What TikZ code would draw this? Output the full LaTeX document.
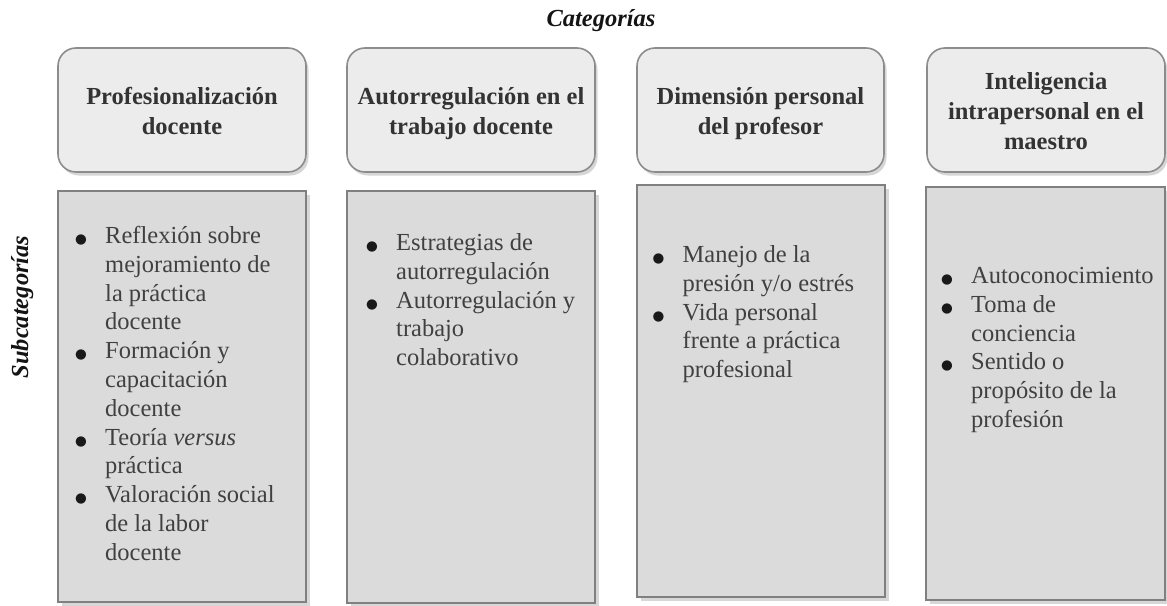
\documentclass[tikz,border=0pt]{standalone}
\usepackage{fontspec}
\setmainfont{Liberation Serif}
\newfontfamily\dejavu{DejaVu Sans}
\usepackage{array}
\usetikzlibrary{shadows}
\definecolor{catfill}{gray}{0.925}
\definecolor{catline}{gray}{0.55}
\definecolor{subfill}{gray}{0.86}
\definecolor{subline}{gray}{0.5}
\definecolor{shadecol}{gray}{0.68}
\definecolor{titletext}{gray}{0.2}
\definecolor{bodytext}{gray}{0.25}
\newcommand\tst{\vrule width 0pt height 24pt depth 6pt}
\newcommand\bdot{\makebox[30pt][l]{\raisebox{0pt}[0pt][0pt]{\dejavu\fontsize{13.5}{13.5}\selectfont\color{gray!20!black}●}}}
\newcommand\bulletcol{\begin{tabular}[t]{@{}l@{}l@{}}}
\begin{document}
\begin{tikzpicture}[x=1pt,y=-1pt,
  catbox/.style={draw=catline, line width=1.6pt, fill=catfill, rounded corners=18pt,
    drop shadow={shadow xshift=2.5pt, shadow yshift=-3.5pt, fill=shadecol},
    inner sep=0pt, align=center, text=titletext,
    font=\fontsize{24.5}{30}\selectfont\bfseries},
  subbox/.style={draw=subline, line width=2pt, fill=subfill,
    drop shadow={shadow xshift=3.5pt, shadow yshift=-3.5pt, fill=gray!62},
    inner sep=0pt},
  itemlist/.style={anchor=base west, inner sep=0pt, text=bodytext,
    font=\fontsize{24.5}{28.8}\selectfont},
  heading/.style={inner sep=0pt, text=black!92,
    font=\fontsize{24.5}{30}\selectfont\bfseries\itshape},
]
\useasboundingbox (0,0) rectangle (1167,605);

% headings
\node[heading, anchor=base] (cat) at (601,27) {Categorías};
\node[heading, anchor=base, rotate=90] (subcat) at (28,307) {Subcategorías};

% category boxes
\node[catbox, minimum width=248pt, minimum height=124pt] (c1) at (182,110)
  {\tst Profesionalización\\ \tst docente};
\node[catbox, minimum width=248pt, minimum height=124pt] (c2) at (471,110)
  {\tst Autorregulación en el\\ \tst trabajo docente};
\node[catbox, minimum width=247pt, minimum height=124pt] (c3) at (760.5,110)
  {\tst Dimensión personal\\ \tst del profesor};
\node[catbox, minimum width=238pt, minimum height=124pt] (c4) at (1046,110)
  {\tst Inteligencia\\ \tst intrapersonal en el\\ \tst maestro};

% subcategory boxes
\node[subbox, minimum width=248pt, minimum height=411pt] (s1) at (182,396.5) {};
\node[subbox, minimum width=248pt, minimum height=412pt] (s2) at (471,397) {};
\node[subbox, minimum width=248pt, minimum height=412pt] (s3) at (761,391) {};
\node[subbox, minimum width=239pt, minimum height=413pt] (s4) at (1045.5,393.5) {};

% lists
\node[itemlist] (l1) at (75,243.5) {\bulletcol
  \bdot & Reflexión sobre\\
    & mejoramiento de\\
    & la práctica\\
    & docente\\
  \bdot & Formación y\\
    & capacitación\\
    & docente\\
  \bdot & Teoría \emph{versus}\\
    & práctica\\
  \bdot & Valoración social\\
    & de la labor\\
    & docente
  \end{tabular}};
\node[itemlist] (l2) at (366,250.5) {\bulletcol
  \bdot & Estrategias de\\
    & autorregulación\\
  \bdot & Autorregulación y\\
    & trabajo\\
    & colaborativo
  \end{tabular}};
\node[itemlist] (l3) at (652.5,262.5) {\bulletcol
  \bdot & Manejo de la\\
    & presión y/o estrés\\
  \bdot & Vida personal\\
    & frente a práctica\\
    & profesional
  \end{tabular}};
\node[itemlist] (l4) at (941,283.5) {\bulletcol
  \bdot & Autoconocimiento\\
  \bdot & Toma de\\
    & conciencia\\
  \bdot & Sentido o\\
    & propósito de la\\
    & profesión
  \end{tabular}};
\end{tikzpicture}
\end{document}
